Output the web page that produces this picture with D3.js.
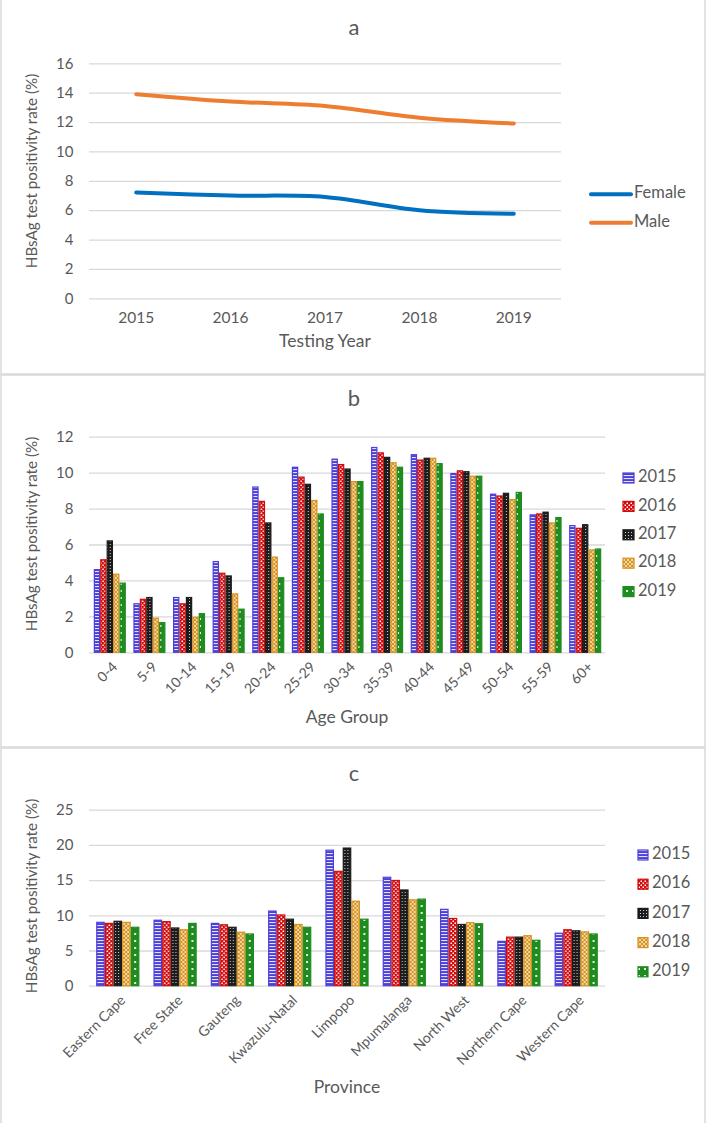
<!DOCTYPE html>
<html>
<head>
<meta charset="utf-8">
<script src="https://cdn.jsdelivr.net/npm/d3@7"></script>
<style>
  body { margin: 0; background: #fff; }
  svg text { font-family: Lato, "Open Sans", sans-serif; fill: #595959; }
</style>
</head>
<body>
<script>
// chart values
var years = ['2015', '2016', '2017', '2018', '2019'];
var femaleRate = [7.2, 7.0, 6.9, 6.0, 5.75];
var maleRate = [13.9, 13.4, 13.1, 12.3, 11.9];

var ageGroups = ['0-4', '5-9', '10-14', '15-19', '20-24', '25-29', '30-34', '35-39', '40-44', '45-49', '50-54', '55-59', '60+'];
var age2015 = [4.6, 2.7, 3.05, 5.05, 9.2, 10.3, 10.75, 11.4, 11.0, 9.95, 8.8, 7.65, 7.05];
var age2016 = [5.15, 2.95, 2.7, 4.4, 8.4, 9.75, 10.45, 11.1, 10.7, 10.1, 8.7, 7.7, 6.9];
var age2017 = [6.2, 3.05, 3.05, 4.25, 7.2, 9.35, 10.2, 10.85, 10.8, 10.05, 8.85, 7.8, 7.1];
var age2018 = [4.35, 1.9, 1.95, 3.25, 5.3, 8.45, 9.5, 10.55, 10.8, 9.8, 8.5, 7.2, 5.7];
var age2019 = [3.85, 1.65, 2.15, 2.4, 4.15, 7.7, 9.5, 10.3, 10.5, 9.8, 8.9, 7.5, 5.75];

var provinces = ['Eastern Cape', 'Free State', 'Gauteng', 'Kwazulu-Natal', 'Limpopo', 'Mpumalanga', 'North West', 'Northern Cape', 'Western Cape'];
var prov2015 = [9.0, 9.3, 8.85, 10.6, 19.25, 15.4, 10.85, 6.3, 7.45];
var prov2016 = [8.85, 9.1, 8.65, 10.05, 16.25, 14.95, 9.55, 6.9, 7.95];
var prov2017 = [9.15, 8.2, 8.3, 9.45, 19.55, 13.6, 8.7, 6.9, 7.8];
var prov2018 = [9.0, 7.95, 7.6, 8.7, 12.0, 12.2, 8.95, 7.1, 7.65];
var prov2019 = [8.3, 8.85, 7.35, 8.3, 9.45, 12.3, 8.8, 6.45, 7.35];

var yTicksA = [0, 2, 4, 6, 8, 10, 12, 14, 16];
var yTicksB = [0, 2, 4, 6, 8, 10, 12];
var yTicksC = [0, 5, 10, 15, 20, 25];

(function() {
    var w = 708,
        h = 1123;
    var lineColors = ['#0070c0', '#ed7d31'];
    var barColors = ['#4b3fd8', '#d10b0b', '#1c1c1c', '#d8921c', '#1f8c1f'];
    var gridColor = '#d9d9d9';
    var yTitle = 'HBsAg test positivity rate (%)';

    var svg = d3.select('body')
        .append('svg')
        .attr('width', w)
        .attr('height', h);

    // fill patterns, one per year
    var defs = svg.append('defs');
    function pat(i, pw, ph) {
        var p = defs.append('pattern')
            .attr('id', 'pat' + i)
            .attr('patternUnits', 'userSpaceOnUse')
            .attr('width', pw)
            .attr('height', ph);
        p.append('rect').attr('width', pw).attr('height', ph).attr('fill', barColors[i]);
        return p;
    }
    pat(0, 4, 3).append('rect').attr('y', 1).attr('width', 4).attr('height', 1.1).attr('fill', '#fff').attr('opacity', 0.85);
    var p1 = pat(1, 4, 4);
    p1.append('rect').attr('x', 0.5).attr('y', 0.5).attr('width', 1.5).attr('height', 1.5).attr('fill', '#fff');
    p1.append('rect').attr('x', 2.5).attr('y', 2.5).attr('width', 1.5).attr('height', 1.5).attr('fill', '#fff');
    pat(2, 3, 3).append('rect').attr('x', 1).attr('y', 1).attr('width', 1).attr('height', 1).attr('fill', '#fff').attr('opacity', 0.8);
    pat(3, 4, 4).append('path').attr('d', 'M0,0L4,4M4,0L0,4').attr('stroke', '#fff').attr('stroke-width', 0.8).attr('opacity', 0.8);
    pat(4, 6, 7).append('path').attr('d', 'M2,2L4,4M4,2L2,4').attr('stroke', '#fff').attr('stroke-width', 0.9);

    // panel frames
    var frames = [[1, -1, 704, 375], [1, 375, 704, 372], [1, 748, 704, 376]];
    svg.selectAll('rect.frame')
        .data(frames)
        .enter()
        .append('rect')
        .attr('class', 'frame')
        .attr('x', function(d) { return d[0]; })
        .attr('y', function(d) { return d[1]; })
        .attr('width', function(d) { return d[2]; })
        .attr('height', function(d) { return d[3]; })
        .attr('fill', 'none')
        .attr('stroke', gridColor)
        .attr('stroke-width', 1.5);

    function yAxis(y, ticks, x0, x1) {
        var g = svg.append('g')
            .attr('transform', 'translate(' + x0 + ',0)')
            .call(d3.axisLeft(y).tickValues(ticks).tickSize(-(x1 - x0)).tickPadding(15.5).tickFormat(d3.format('d')));
        g.select('.domain').remove();
        g.selectAll('line').attr('stroke', gridColor).attr('stroke-width', 1.3);
        g.selectAll('text').attr('font-size', 15).attr('font-family', 'Lato');
        return g;
    }

    function text(x, y, s, size, rot) {
        return svg.append('text')
            .attr('transform', 'translate(' + x + ',' + y + ')' + (rot ? ' rotate(' + rot + ')' : ''))
            .attr('text-anchor', 'middle')
            .attr('dominant-baseline', 'middle')
            .attr('font-size', size)
            .text(s);
    }

    // ---------- panel a ----------
    var xA = d3.scaleBand().domain(years).range([89, 561]);
    var yA = d3.scaleLinear().domain([0, 16]).range([298.3, 63.3]);
    yAxis(yA, yTicksA, 89, 561);
    var gxA = svg.append('g')
        .attr('transform', 'translate(0,298.3)')
        .call(d3.axisBottom(xA).tickSize(0).tickPadding(14));
    gxA.select('.domain').remove();
    gxA.selectAll('text').attr('font-size', 15.5).attr('font-family', 'Lato');

    var line = d3.line()
        .x(function(d, i) { return xA(years[i]) + xA.bandwidth() / 2; })
        .y(function(d) { return yA(d); })
        .curve(d3.curveCatmullRom.alpha(0.5));
    [femaleRate, maleRate].forEach(function(s, i) {
        svg.append('path')
            .attr('d', line(s))
            .attr('fill', 'none')
            .attr('stroke', lineColors[i])
            .attr('stroke-width', 4)
            .attr('stroke-linecap', 'round');
    });
    ['Female', 'Male'].forEach(function(s, i) {
        var ly = 194.3 + i * 28.4;
        svg.append('line')
            .attr('x1', 591).attr('x2', 631)
            .attr('y1', ly).attr('y2', ly)
            .attr('stroke', lineColors[i])
            .attr('stroke-width', 4)
            .attr('stroke-linecap', 'round');
        svg.append('text')
            .attr('x', 634).attr('y', ly)
            .attr('dominant-baseline', 'middle')
            .attr('font-size', 16.5)
            .text(s);
    });
    text(354, 29, 'a', 22);
    text(33, 171, yTitle, 15.2, -90);
    text(325, 343, 'Testing Year', 17.5);

    // ---------- grouped bars ----------
    function bars(cats, series, x, y) {
        var xs = d3.scaleBand().domain(years).range([0, x.bandwidth()]);
        var g = svg.append('g');
        var grp = g.selectAll('g')
            .data(cats)
            .enter()
            .append('g')
            .attr('transform', function(d) { return 'translate(' + x(d) + ',0)'; });
        grp.selectAll('rect')
            .data(function(d, ci) { return series.map(function(s) { return s[ci]; }); })
            .enter()
            .append('rect')
            .attr('x', function(d, i) { return xs(years[i]) + 0.6; })
            .attr('y', function(d) { return y(d); })
            .attr('width', xs.bandwidth() - 1.2)
            .attr('height', function(d) { return y(0) - y(d); })
            .attr('fill', function(d, i) { return 'url(#pat' + i + ')'; })
            .attr('stroke', function(d, i) { return barColors[i]; })
            .attr('stroke-width', 1.2);
    }

    function legend(x0, y0, step, sw, fs) {
        years.forEach(function(s, i) {
            var ly = y0 + i * step;
            svg.append('rect')
                .attr('x', x0).attr('y', ly - 5)
                .attr('width', sw).attr('height', 10)
                .attr('fill', 'url(#pat' + i + ')')
                .attr('stroke', barColors[i])
                .attr('stroke-width', 1.2);
            svg.append('text')
                .attr('x', x0 + sw + 4).attr('y', ly)
                .attr('dominant-baseline', 'middle')
                .attr('font-size', fs)
                .text(s);
        });
    }

    // ---------- panel b ----------
    var xB = d3.scaleBand().domain(ageGroups).range([90, 605]).paddingInner(0.19).paddingOuter(0.095);
    var yB = d3.scaleLinear().domain([0, 12]).range([652.3, 436.7]);
    yAxis(yB, yTicksB, 89, 605);
    bars(ageGroups, [age2015, age2016, age2017, age2018, age2019], xB, yB);
    var gxB = svg.append('g')
        .attr('transform', 'translate(0,652.3)')
        .call(d3.axisBottom(xB).tickSize(0).tickPadding(0));
    gxB.select('.domain').remove();
    gxB.selectAll('text')
        .attr('font-size', 14)
        .attr('font-family', 'Lato')
        .attr('text-anchor', 'end')
        .attr('dy', '0.35em')
        .attr('transform', 'translate(5,12) rotate(-45)');
    legend(623, 478, 28.4, 11, 16.5);
    text(354, 400, 'b', 22);
    text(33, 534, yTitle, 15.2, -90);
    text(347, 719, 'Age Group', 17.5);

    // ---------- panel c ----------
    var xC = d3.scaleBand().domain(provinces).range([89, 605]).paddingInner(0.245).paddingOuter(0.125);
    var yC = d3.scaleLinear().domain([0, 25]).range([985.7, 809.7]);
    yAxis(yC, yTicksC, 89, 605);
    bars(provinces, [prov2015, prov2016, prov2017, prov2018, prov2019], xC, yC);
    var gxC = svg.append('g')
        .attr('transform', 'translate(0,985.7)')
        .call(d3.axisBottom(xC).tickSize(0).tickPadding(0));
    gxC.select('.domain').remove();
    gxC.selectAll('text')
        .attr('font-size', 14)
        .attr('font-family', 'Lato')
        .attr('text-anchor', 'end')
        .attr('dy', '0.35em')
        .attr('transform', 'translate(5,12) rotate(-45)');
    legend(638, 855, 29.2, 10, 16.5);
    text(354, 775, 'c', 22);
    text(33, 896, yTitle, 15.2, -90);
    text(347, 1089, 'Province', 17.5);
})();
</script>
</body>
</html>
